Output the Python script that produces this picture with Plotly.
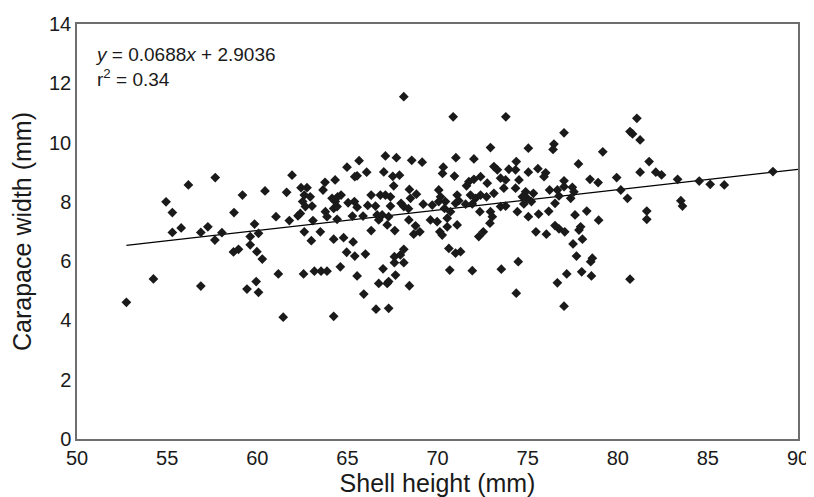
import plotly.graph_objects as go

# --------------------------------------------------------------
# Data
# --------------------------------------------------------------
shell_height = [
    52.74, 54.24, 56.87, 54.94, 55.29, 56.18, 57.67, 55.29, 55.78, 56.87,
    57.26, 58.04, 57.65, 58.71, 59.18, 58.68, 58.96, 59.85, 59.61, 59.61,
    59.98, 60.07, 59.43, 59.94, 60.07, 60.28, 60.43, 61.04, 61.17, 61.44,
    61.63, 61.78, 61.93, 62.26, 62.39, 62.43, 62.76, 62.61, 62.94, 62.52,
    62.67, 63.04, 63.09, 62.61, 63.00, 62.57, 63.17, 63.54, 63.87, 63.50,
    63.65, 63.76, 64.32, 63.78, 63.87, 64.15, 64.33, 64.46, 64.24, 64.43,
    64.65, 64.43, 64.24, 64.79, 64.24, 64.61, 64.96, 65.32, 65.41, 66.00,
    65.54, 65.91, 64.98, 65.65, 65.41, 65.54, 66.07, 65.04, 65.39, 65.54,
    65.28, 65.87, 66.13, 66.32, 66.32, 66.56, 66.65, 66.74, 66.93, 66.83,
    67.11, 67.02, 67.11, 67.21, 66.98, 66.74, 67.21, 66.59, 67.29, 68.13,
    70.87, 73.79, 67.72, 68.57, 69.15, 71.02, 72.02, 72.94, 74.37, 67.52,
    67.89, 67.57, 70.32, 70.28, 70.94, 67.39, 68.44, 68.83, 68.50, 67.98,
    68.13, 67.39, 67.29, 68.39, 69.21, 69.71, 70.07, 70.17, 70.07, 70.44,
    70.39, 70.72, 71.09, 71.18, 71.00, 71.61, 71.74, 72.02, 72.39, 72.76,
    71.83, 72.11, 71.93, 71.56, 72.39, 72.35, 72.72, 73.13, 72.94, 73.04,
    72.91, 73.13, 73.32, 73.50, 73.78, 73.96, 73.68, 73.50, 73.78, 74.33,
    74.33, 74.43, 67.63, 68.41, 68.78, 68.68, 69.02, 69.61, 69.98, 70.13,
    70.26, 70.54, 70.54, 71.09, 72.29, 72.54, 70.63, 71.00, 71.28, 70.68,
    71.93, 73.54, 68.13, 67.94, 67.61, 67.61, 68.13, 67.67, 67.29, 68.44,
    74.48, 74.37, 81.06, 80.68, 80.82, 81.24, 77.02, 75.04, 76.46, 76.41,
    79.17, 77.82, 81.74, 75.04, 75.57, 76.00, 75.91, 74.52, 78.46, 78.91,
    79.94, 81.24, 74.89, 74.71, 74.98, 75.32, 74.79, 75.21, 76.22, 76.65,
    77.02, 77.02, 76.74, 76.52, 77.48, 77.57, 77.39, 80.17, 80.54, 75.04,
    75.61, 76.17, 77.63, 78.28, 78.94, 81.61, 81.61, 75.46, 76.04, 76.52,
    76.74, 77.06, 77.94, 77.85, 78.04, 77.52, 77.71, 78.59, 78.50, 77.17,
    76.65, 78.00, 78.54, 80.68, 77.02, 82.11, 82.43, 83.32, 84.52, 85.13,
    85.91, 88.61, 83.50, 83.59,
]
carapace_width = [
    4.61, 5.40, 5.16, 8.00, 7.64, 8.57, 8.82, 6.97, 7.12, 6.97,
    7.16, 6.96, 6.71, 7.64, 8.23, 6.31, 6.40, 7.25, 6.83, 6.55,
    6.32, 6.94, 5.06, 5.31, 4.95, 6.07, 8.37, 7.50, 5.57, 4.11,
    8.32, 7.37, 8.90, 7.53, 7.61, 8.48, 8.48, 8.23, 8.17, 8.01,
    7.84, 7.86, 7.37, 6.99, 6.69, 5.57, 5.66, 5.66, 5.66, 6.99,
    8.40, 8.66, 8.74, 7.67, 7.50, 8.12, 8.01, 8.17, 7.78, 7.84,
    8.23, 7.41, 6.74, 6.79, 4.14, 5.81, 6.30, 6.65, 6.17, 6.24,
    5.50, 4.89, 9.17, 9.39, 8.85, 8.88, 9.00, 7.97, 8.01, 7.82,
    7.52, 7.52, 7.88, 8.23, 7.03, 7.86, 7.56, 7.39, 7.56, 8.23,
    8.23, 9.01, 9.55, 7.22, 5.74, 5.25, 5.25, 4.38, 4.41, 11.55,
    10.87, 10.87, 9.49, 9.40, 9.34, 9.49, 9.45, 9.83, 9.36, 8.86,
    8.90, 8.54, 9.17, 8.96, 8.87, 8.17, 8.42, 8.26, 8.12, 7.95,
    7.84, 7.86, 7.50, 7.77, 7.92, 7.89, 8.40, 8.17, 8.01, 8.01,
    7.78, 7.67, 8.23, 8.04, 7.95, 8.54, 8.68, 8.76, 8.85, 8.63,
    8.23, 8.12, 7.93, 7.92, 8.23, 7.67, 8.17, 8.29, 7.67, 7.50,
    7.28, 9.19, 9.08, 8.80, 8.74, 9.10, 8.46, 7.84, 7.86, 9.08,
    8.46, 7.67, 7.03, 7.39, 7.19, 6.91, 6.99, 7.39, 7.33, 6.99,
    6.88, 7.45, 7.16, 7.22, 6.83, 6.99, 6.43, 6.27, 6.32, 5.70,
    5.68, 5.73, 6.40, 6.21, 6.15, 5.95, 5.95, 5.53, 5.31, 5.17,
    5.98, 4.92, 10.82, 10.37, 10.29, 10.09, 10.33, 9.81, 9.95, 9.77,
    9.69, 9.28, 9.36, 9.00, 9.12, 8.98, 8.85, 8.74, 8.76, 8.65,
    8.82, 9.00, 8.34, 8.17, 8.12, 8.29, 7.93, 8.01, 8.40, 8.40,
    8.71, 8.51, 8.20, 7.95, 8.49, 8.34, 8.12, 8.40, 8.12, 7.50,
    7.59, 7.68, 7.56, 7.69, 7.38, 7.69, 7.41, 6.99, 6.91, 7.20,
    7.09, 6.99, 7.16, 7.05, 6.74, 6.58, 6.17, 6.10, 5.98, 5.57,
    5.27, 5.64, 5.50, 5.39, 4.48, 9.00, 8.91, 8.76, 8.70, 8.59,
    8.57, 9.02, 8.04, 7.86,
]

# fitted line from the figure's equation
slope = 0.0688
intercept = 2.9036
fit_x = [min(shell_height), 90]
fit_y = [slope * v + intercept for v in fit_x]

x_ticks = [50, 55, 60, 65, 70, 75, 80, 85, 90]
y_ticks = [0, 2, 4, 6, 8, 10, 12, 14]

# --------------------------------------------------------------
# Figure
# --------------------------------------------------------------
font_family = "Liberation Sans, Arial, sans-serif"
axis_color = "#6e6e6e"
text_color = "#1a1a1a"

fig = go.Figure()

fig.add_trace(go.Scatter(
    x=fit_x, y=fit_y,
    mode="lines",
    line=dict(color="black", width=1.2),
    hoverinfo="skip",
))

fig.add_trace(go.Scatter(
    x=shell_height, y=carapace_width,
    mode="markers",
    marker=dict(symbol="diamond", size=7.5, color=text_color, line=dict(width=0)),
))

fig.add_annotation(
    text="<i>y</i> = 0.0688<i>x</i> + 2.9036<br>r<sup>2</sup> = 0.34",
    xref="paper", yref="paper",
    x=0.022, y=0.957,
    xanchor="left", yanchor="top",
    align="left",
    showarrow=False,
    font=dict(size=19, color=text_color, family=font_family),
)

fig.update_xaxes(
    range=[50, 90],
    tickvals=x_ticks,
    showgrid=False, zeroline=False,
    showline=True, linecolor=axis_color, linewidth=1.5, mirror=True,
    ticks="", automargin=False,
    tickfont=dict(size=20, color=text_color),
    title=dict(text="Shell height (mm)", font=dict(size=25, color=text_color), standoff=1),
)
fig.update_yaxes(
    range=[0, 14],
    tickvals=y_ticks,
    showgrid=False, zeroline=False,
    showline=True, linecolor=axis_color, linewidth=1.5, mirror=True,
    ticks="", automargin=False,
    tickfont=dict(size=20, color=text_color),
    title=dict(text="Carapace width (mm)", font=dict(size=25, color=text_color), standoff=10),
)

# the page puts the figure 8px in from the top-left corner
fig.update_layout(
    width=814,
    height=497,
    showlegend=False,
    plot_bgcolor="white",
    paper_bgcolor="white",
    font=dict(family=font_family, color=text_color),
    margin=dict(l=69, r=24, t=16, b=66),
)

fig.write_html("out.html")
